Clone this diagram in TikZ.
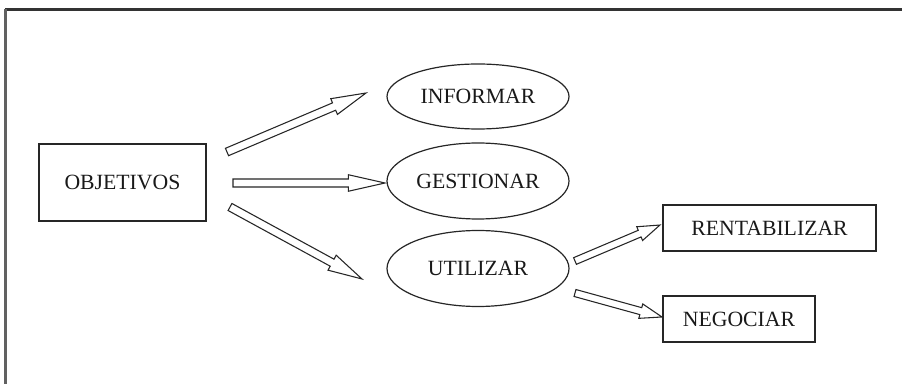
\documentclass[tikz,border=0pt]{standalone}
\usepackage{fontspec}
\setmainfont{Liberation Serif}
\usetikzlibrary{shapes.geometric,calc}
\tikzset{
  lbl/.style={font=\fontsize{16.3}{19}\selectfont, text=black!90, inner sep=0pt},
  boxnode/.style={lbl, draw=black!85, line width=0.9pt, rectangle},
  ellnode/.style={lbl, draw=black!85, line width=0.9pt, ellipse},
  blk/.style={draw=black!85, line width=0.8pt, fill=white, line join=miter},
}
% block arrow: #1 start, #2 end, #3 head length, #4 half shaft, #5 half head
\newcommand{\blkarrow}[5]{%
  \path (#1); \pgfgetlastxy{\baAx}{\baAy}%
  \path (#2); \pgfgetlastxy{\baBx}{\baBy}%
  \pgfmathsetmacro{\baAng}{atan2(\baBy-\baAy,\baBx-\baAx)}%
  \pgfmathsetmacro{\baLen}{veclen(\baBx-\baAx,\baBy-\baAy)}%
  \draw[blk, shift={(\baAx,\baAy)}, rotate=\baAng]
    (0pt,-#4) -- ({\baLen pt-#3},-#4) -- ({\baLen pt-#3},-#5) -- (\baLen pt,0pt)
    -- ({\baLen pt-#3},#5) -- ({\baLen pt-#3},#4) -- (0pt,#4) -- cycle;%
}
\begin{document}
\begin{tikzpicture}[x=0.75pt,y=-0.75pt]
\useasboundingbox (0,0) rectangle (902,384);
% frame
\draw[black!80, line width=1.6pt] (5,9.5) -- (902,9.5);
\draw[black!62, line width=1.6pt] (5.5,9) -- (5.5,384);
% nodes
\node[boxnode, minimum width=125.25pt, minimum height=57.75pt] (obj) at (122.5,182.5) {OBJETIVOS};
\node[ellnode, minimum width=136.5pt, minimum height=48.75pt] (inf) at (478,96.5) {INFORMAR};
\node[ellnode, minimum width=136.5pt, minimum height=57pt] (ges) at (478,181) {GESTIONAR};
\node[ellnode, minimum width=136.5pt, minimum height=57pt] (uti) at (478,268.5) {UTILIZAR};
\node[boxnode, minimum width=159.75pt, minimum height=34.5pt] (ren) at (769.5,228) {RENTABILIZAR};
\node[boxnode, minimum width=114pt, minimum height=34.5pt] (neg) at (739,319) {NEGOCIAR};
% arrow end points
\coordinate (a1s) at (227,152); \coordinate (a1e) at (366,93);
\coordinate (a2s) at (233,183); \coordinate (a2e) at (385,183);
\coordinate (a3s) at (230,207); \coordinate (a3e) at (362,279);
\coordinate (a4s) at (575,261); \coordinate (a4e) at (660,225);
\coordinate (a5s) at (575,293); \coordinate (a5e) at (662,317);
\blkarrow{a1s}{a1e}{26pt}{3pt}{6.4pt}
\blkarrow{a2s}{a2e}{27.5pt}{3pt}{6.2pt}
\blkarrow{a3s}{a3e}{25.5pt}{3pt}{6.4pt}
\blkarrow{a4s}{a4e}{16.5pt}{2.7pt}{5.6pt}
\blkarrow{a5s}{a5e}{16.5pt}{2.7pt}{5.6pt}
\end{tikzpicture}
\end{document}
